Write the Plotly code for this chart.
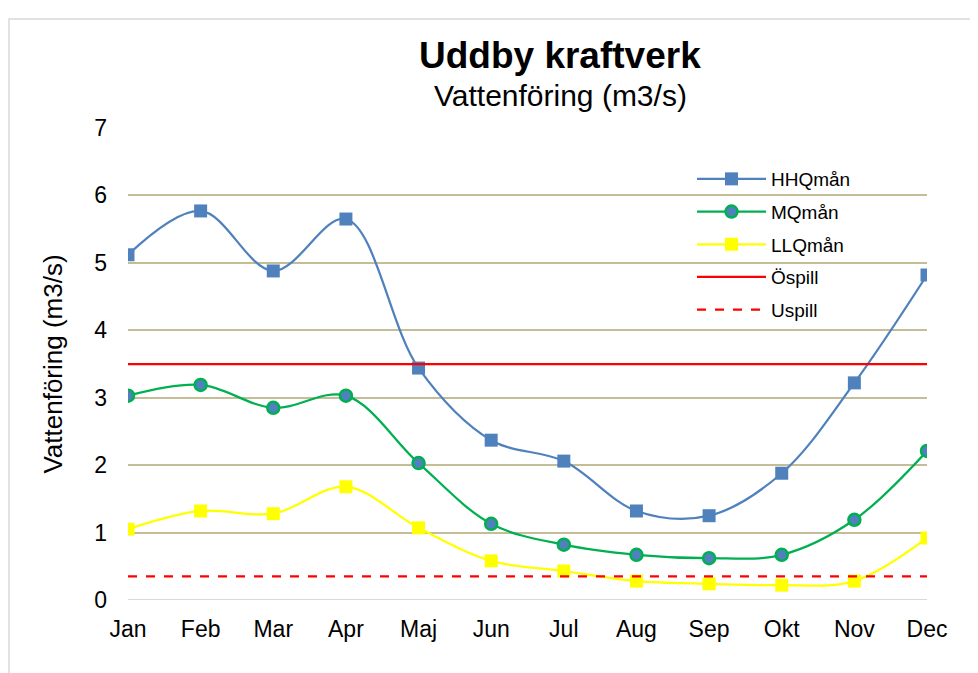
import plotly.graph_objects as go

months = ["Jan", "Feb", "Mar", "Apr", "Maj", "Jun", "Jul", "Aug", "Sep", "Okt", "Nov", "Dec"]
hhq = [5.12, 5.77, 4.88, 5.65, 3.44, 2.37, 2.06, 1.32, 1.25, 1.88, 3.22, 4.82]
mq = [3.03, 3.19, 2.85, 3.03, 2.03, 1.13, 0.82, 0.67, 0.62, 0.67, 1.19, 2.21]
llq = [1.05, 1.32, 1.28, 1.68, 1.07, 0.58, 0.43, 0.28, 0.24, 0.22, 0.28, 0.92]
ospill = [3.5] * 12
uspill = [0.35] * 12
yticks = [0, 1, 2, 3, 4, 5, 6, 7]

FONT = "Liberation Sans, Arial, sans-serif"

# page body has an 8px margin: work in layout coordinates = window - 8
OFF = 8
W, H = 978 - OFF, 673 - OFF
L, T = 128 - OFF, 128 - OFF
R = W - (927 - OFF)
B = H - (600 - OFF)
pw = W - L - R
ph = H - T - B


def px(xw):
    return (xw - OFF - L) / pw


def py(yw):
    return 1 - (yw - OFF - T) / ph


fig = go.Figure()
fig.add_trace(go.Scatter(x=months, y=hhq, name="HHQmån", mode="lines+markers", legendgroup="a",
                         line=dict(color="#4f81bd", width=2.25, shape="spline", smoothing=1),
                         marker=dict(symbol="square", size=13, color="#4f81bd")))
fig.add_trace(go.Scatter(x=months, y=mq, name="MQmån", mode="lines+markers", legendgroup="b",
                         line=dict(color="#00b050", width=2.25, shape="spline", smoothing=1),
                         marker=dict(symbol="circle", size=12, color="#4f81bd",
                                     line=dict(color="#00b050", width=2.5))))
fig.add_trace(go.Scatter(x=months, y=llq, name="LLQmån", mode="lines+markers", legendgroup="c",
                         line=dict(color="#ffff00", width=2.25, shape="spline", smoothing=1),
                         marker=dict(symbol="square", size=13, color="#ffff00")))
fig.add_trace(go.Scatter(x=months, y=ospill, name="Öspill", mode="lines", legendgroup="d",
                         line=dict(color="#ff0000", width=2.25)))
fig.add_trace(go.Scatter(x=months, y=uspill, name="Uspill", mode="lines", legendgroup="e",
                         line=dict(color="#ff0000", width=2.25, dash="dash")))

fig.update_layout(
    width=W, height=H,
    margin=dict(l=L, r=R, t=T, b=B),
    paper_bgcolor="white", plot_bgcolor="white",
    font=dict(family=FONT, color="black"),
    showlegend=True,
    legend=dict(x=px(692), y=py(160), xanchor="left", yanchor="top",
                font=dict(size=19, family=FONT), itemwidth=69,
                tracegroupgap=5, bgcolor="rgba(0,0,0,0)"),
    xaxis=dict(range=[0, 11], showgrid=False, zeroline=False, showline=False,
               tickfont=dict(size=23), ticks="", ticklabelstandoff=13),
    yaxis=dict(range=[0, 7], tickvals=yticks, showgrid=True, gridcolor="#c4bd97",
               gridwidth=2, zeroline=False, showline=False,
               tickfont=dict(size=23), ticks="", ticklabelstandoff=20,
               title=dict(text="Vattenföring (m3/s)", font=dict(size=26), standoff=24)),
    annotations=[
        dict(text="<b>Uddby kraftverk</b>", x=px(560), y=py(56),
             xref="paper", yref="paper", showarrow=False, font=dict(size=37, family=FONT),
             xanchor="center", yanchor="middle"),
        dict(text="Vattenföring (m3/s)", x=px(560), y=py(95),
             xref="paper", yref="paper", showarrow=False, font=dict(size=30, family=FONT),
             xanchor="center", yanchor="middle"),
    ],
    shapes=[
        dict(type="rect", xref="paper", yref="paper",
             x0=px(9), x1=px(1000), y0=py(700), y1=py(19),
             line=dict(color="#d9d9d9", width=1.5), fillcolor="rgba(0,0,0,0)", layer="below"),
        dict(type="line", xref="x", yref="y", x0=0, x1=11, y0=0, y1=0,
             line=dict(color="#d9d9d9", width=2), layer="below"),
    ],
)

fig.write_html("out.html")
